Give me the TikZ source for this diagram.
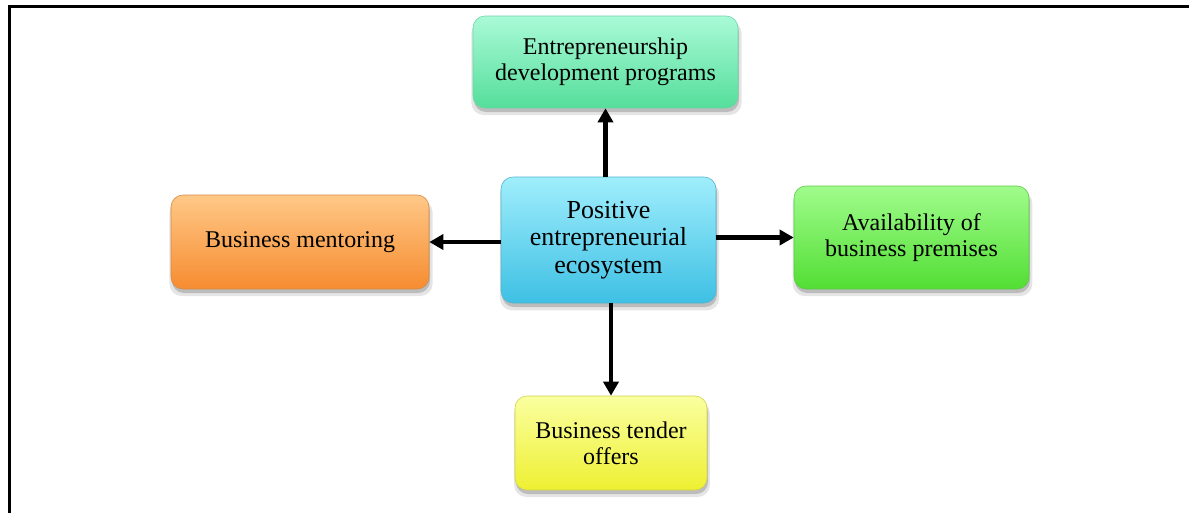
\documentclass[tikz,border=0pt]{standalone}
\usepackage{fontspec}
\setmainfont{Liberation Serif}
\usetikzlibrary{shadows,arrows.meta}
\definecolor{tgtop}{RGB}{170,250,215}
\definecolor{tgbot}{RGB}{85,222,155}
\definecolor{cbtop}{RGB}{160,238,252}
\definecolor{cbbot}{RGB}{62,192,228}
\definecolor{ortop}{RGB}{255,200,135}
\definecolor{orbot}{RGB}{246,140,48}
\definecolor{rgtop}{RGB}{160,252,140}
\definecolor{rgbot}{RGB}{82,222,52}
\definecolor{yltop}{RGB}{250,255,160}
\definecolor{ylbot}{RGB}{238,240,50}
\tikzset{
  box/.style={rounded corners=12pt, align=center, inner sep=4pt,
    font=\fontsize{24}{26}\selectfont, text=black, line width=0.6pt,
    general shadow={shadow xshift=1pt, shadow yshift=-6pt, shadow scale=1.02, opacity=0.10, fill=black},
    general shadow={shadow xshift=1pt, shadow yshift=-4pt, opacity=0.18, fill=black}},
  arr/.style={line width=4.5pt, -{Triangle[length=14pt,width=15pt]}, black},
  frameline/.style={line width=3pt, black}
}
\begin{document}
\begin{tikzpicture}[x=1pt,y=-1pt]
\useasboundingbox (0,0) rectangle (1191,512);
\coordinate (f1) at (9,6);
\coordinate (f2) at (1189,6);
\coordinate (f3) at (9,513);
\draw[frameline] (f3) -- (f1) -- (f2);
\node[box, minimum width=265pt, minimum height=92pt, top color=tgtop, bottom color=tgbot, draw=tgbot!85!black!60!tgtop] (t) at (605.5,62) {Entrepreneurship\\development programs};
\node[box, minimum width=258pt, minimum height=94pt, top color=ortop, bottom color=orbot, draw=orbot!80!black!70!ortop] (l) at (300,242) {Business mentoring};
\node[box, minimum width=235pt, minimum height=103pt, top color=rgtop, bottom color=rgbot, draw=rgbot!80!black!70!rgtop] (r) at (911.5,237.5) {Availability of\\business premises};
\node[box, minimum width=192pt, minimum height=94pt, top color=yltop, bottom color=ylbot, draw=ylbot!80!black!70!yltop] (b) at (611,443) {Business tender\\offers};
\node[box, minimum width=215pt, minimum height=126pt, top color=cbtop, bottom color=cbbot, draw=cbbot!80!black!70!cbtop, font=\fontsize{26}{27.5}\selectfont] (c) at (608.5,240) {Positive\\entrepreneurial\\ecosystem};
\draw[arr] (c.north -| t.south) -- (t.south);
\draw[arr] (c.south -| b.north) -- (b.north);
\draw[arr] (c.west |- l.east) -- (l.east);
\draw[arr] (c.east |- r.west) -- (r.west);
\end{tikzpicture}
\end{document}
